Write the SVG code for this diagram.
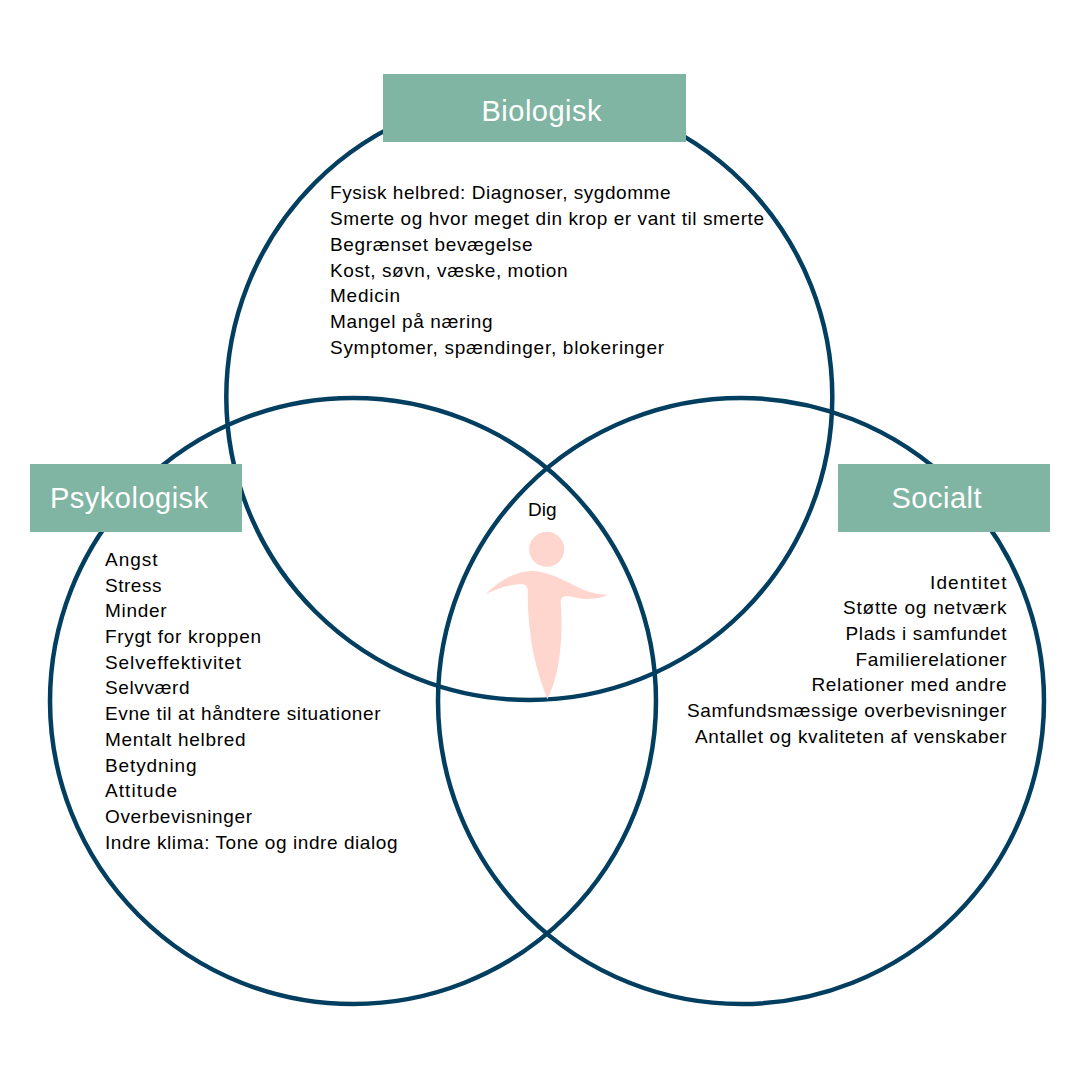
<svg xmlns="http://www.w3.org/2000/svg" width="1080" height="1080" viewBox="0 0 1080 1080">
<style>
.c{fill:none;stroke:#023e5f;stroke-width:4.5}
.h{fill:#7fb5a2}
.ht{font-family:"Liberation Sans",Arial,sans-serif;font-size:29px;fill:#fff;letter-spacing:.5px}
.t{font-family:"Liberation Sans",Arial,sans-serif;font-size:19px;fill:#000}
.e{text-anchor:end}
.f{fill:#ffd6cd}
</style>
<rect width="1080" height="1080" fill="#fff"/>
<g id="connectors">
<circle class="c" cx="529.300" cy="397" r="303"/>
<circle class="c" cx="353" cy="701" r="303"/>
<circle class="c" cx="741" cy="701" r="303"/>
</g>
<g id="biologisk">
<rect class="h" x="383" y="74" width="303" height="68"/>
<text class="ht" x="481.500" y="121">Biologisk</text>
<text class="t" x="330" y="199" textLength="340.500">Fysisk helbred: Diagnoser, sygdomme</text>
<text class="t" x="330" y="225" textLength="434">Smerte og hvor meget din krop er vant til smerte</text>
<text class="t" x="330" y="251" textLength="202.500">Begrænset bevægelse</text>
<text class="t" x="330" y="277" textLength="237.500">Kost, søvn, væske, motion</text>
<text class="t" x="330" y="302" textLength="70">Medicin</text>
<text class="t" x="330" y="328" textLength="162.500">Mangel på næring</text>
<text class="t" x="330" y="354" textLength="334">Symptomer, spændinger, blokeringer</text>
</g>
<g id="psykologisk">
<rect class="h" x="30" y="464" width="212" height="68"/>
<text class="ht" x="50" y="508">Psykologisk</text>
<text class="t" x="105" y="566" textLength="52.500">Angst</text>
<text class="t" x="105" y="592" textLength="56.500">Stress</text>
<text class="t" x="105" y="617" textLength="61.500">Minder</text>
<text class="t" x="105" y="643" textLength="156">Frygt for kroppen</text>
<text class="t" x="105" y="669" textLength="136">Selveffektivitet</text>
<text class="t" x="105" y="694" textLength="84.500">Selvværd</text>
<text class="t" x="105" y="720" textLength="275.500">Evne til at håndtere situationer</text>
<text class="t" x="105" y="746" textLength="140.500">Mentalt helbred</text>
<text class="t" x="105" y="772" textLength="91.500">Betydning</text>
<text class="t" x="105" y="797" textLength="72">Attitude</text>
<text class="t" x="105" y="823" textLength="147">Overbevisninger</text>
<text class="t" x="105" y="849" textLength="292.500">Indre klima: Tone og indre dialog</text>
</g>
<g id="socialt">
<rect class="h" x="838" y="464" width="212" height="68"/>
<text class="ht" x="891.500" y="508">Socialt</text>
<text class="t" x="930" y="589" textLength="76.500">Identitet</text>
<text class="t" x="843" y="614" textLength="163.500">Støtte og netværk</text>
<text class="t" x="845.500" y="640" textLength="161">Plads i samfundet</text>
<text class="t" x="855.500" y="666" textLength="151">Familierelationer</text>
<text class="t" x="811.500" y="691" textLength="195">Relationer med andre</text>
<text class="t" x="687" y="717" textLength="319.500">Samfundsmæssige overbevisninger</text>
<text class="t" x="695" y="743" textLength="311.500">Antallet og kvaliteten af venskaber</text>
</g>
<g id="dig">
<text class="t" x="528" y="516">Dig</text>
<circle class="f" cx="546.7" cy="549.3" r="17.5"/>
<path class="f" d="M485.7 594C499 581 515 571 532 571C556 572 575 588 590 592C597 594 603 594.500 608.300 595C600 598 594 599 586 599C578 599 571 596 566.500 596C562 596.500 560.700 599 560.700 602C562 620 562 640 559 660C557 675 552 690 547.300 699.300C540 680 532 655 530 630C528 615 527.700 600 527.700 590C527.500 586 525 584.300 522 584.300C510 584 497 589 485.700 594Z"/>
</g>
</svg>
